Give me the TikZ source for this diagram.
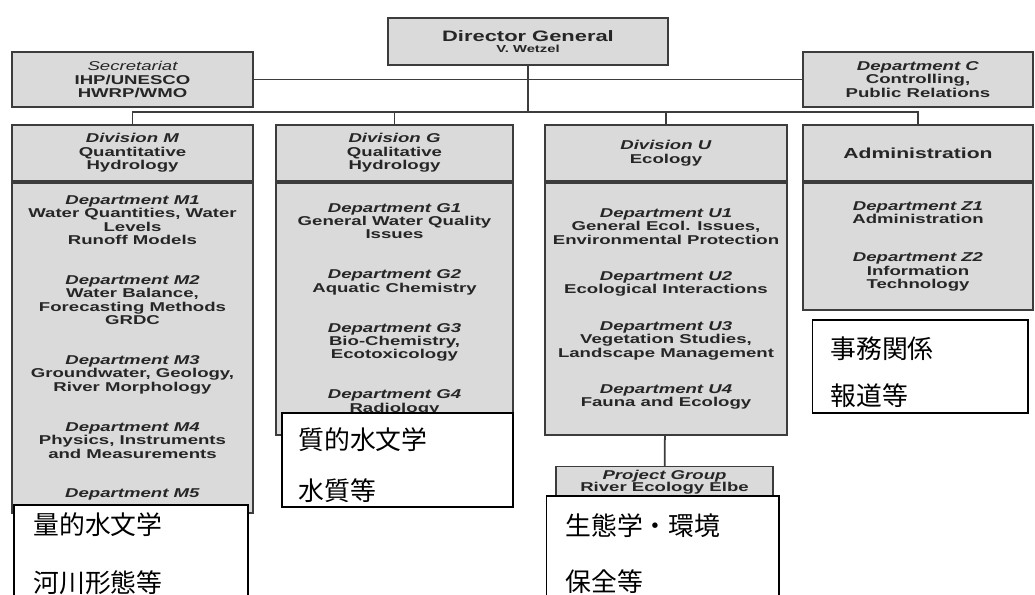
\documentclass[tikz,border=0pt]{standalone}
\usepackage{fontspec}
\newfontfamily\orgfont[FakeStretch=1.45]{Liberation Sans}
\newfontfamily\jpfont{Noto Sans CJK JP}
\usepackage{tikz}
\usetikzlibrary{positioning}

\definecolor{boxgray}{RGB}{218,218,218}
\definecolor{linegray}{RGB}{60,60,60}

\begin{document}
\begin{tikzpicture}[x=0.02cm, y=-0.02cm]
			\tikzstyle{Box}		= [rectangle, draw=linegray, line width=0.8pt, fill=boxgray, align=center, inner sep=1pt, text=black!85, font=\orgfont\bfseries\fontsize{7.3}{7.65}\selectfont]
			\tikzstyle{Head}	= [Box, minimum height=1.12cm]
			\tikzstyle{Dept}	= [Box]
			\tikzstyle{Note}	= [rectangle, draw=black, line width=0.6pt, fill=white]
			\tikzstyle{NoteText}	= [anchor=west, align=left, inner sep=0pt, font=\jpfont\fontsize{14.7}{27}\selectfont]
			\tikzstyle{Link}	= [draw=linegray, line width=1pt]

			\useasboundingbox (0,0) rectangle (1035,595);
			\clip (0,0) rectangle (1035,595);

			\node (dg) at (528,41.5) [Box, minimum width=5.6cm, minimum height=0.94cm] {{\fontsize{8.6}{9}\selectfont Director General}\\[-1pt]{\fontsize{5.8}{6.5}\selectfont V. Wetzel}};
			\node (sec) at (132.5,79.5) [Box, minimum width=4.82cm, minimum height=1.1cm] {{\mdseries\itshape Secretariat}\\IHP/UNESCO\\HWRP/WMO};
			\node (depC) at (918,79.5) [Box, minimum width=4.6cm, minimum height=1.1cm] {\textit{Department C}\\Controlling,\\Public Relations};

			\node (divM) at (132.5,153) [Head, minimum width=4.82cm] {\textit{Division M}\\Quantitative\\Hydrology};
			\node (divG) at (394.5,153) [Head, minimum width=4.74cm] {\textit{Division G}\\Qualitative\\Hydrology};
			\node (divU) at (666,153) [Head, minimum width=4.84cm] {\textit{Division U}\\Ecology};
			\node (divA) at (918,153) [Head, minimum width=4.6cm, font=\orgfont\bfseries\fontsize{8.3}{9}\selectfont] {Administration};

			\node (depM) at (132.5,348) [Dept, minimum width=4.82cm, minimum height=6.6cm] {\textit{Department M1}\\Water Quantities, Water\\Levels\\Runoff Models\\[15pt]
				\textit{Department M2}\\Water Balance,\\Forecasting Methods\\GRDC\\[15pt]
				\textit{Department M3}\\Groundwater, Geology,\\River Morphology\\[15pt]
				\textit{Department M4}\\Physics, Instruments\\and Measurements\\[15pt]
				\textit{Department M5}};
			\node (depG) at (394.5,309) [Dept, minimum width=4.74cm, minimum height=5.04cm] {\textit{Department G1}\\General Water Quality\\Issues\\[15pt]
				\textit{Department G2}\\Aquatic Chemistry\\[15pt]
				\textit{Department G3}\\Bio-Chemistry,\\Ecotoxicology\\[15pt]
				\textit{Department G4}\\Radiology};
			\node (depU) at (666,309) [Dept, minimum width=4.84cm, minimum height=5.04cm] {\textit{Department U1}\\General Ecol. Issues,\\Environmental Protection\\[13pt]
				\textit{Department U2}\\Ecological Interactions\\[13pt]
				\textit{Department U3}\\Vegetation Studies,\\Landscape Management\\[13pt]
				\textit{Department U4}\\Fauna and Ecology};
			\node (depZ) at (918,246.5) [Dept, minimum width=4.6cm, minimum height=2.54cm] {\textit{Department Z1}\\Administration\\[14pt]
				\textit{Department Z2}\\Information\\Technology};
			\node (proj) at (664.5,482) [Box, minimum width=4.34cm, minimum height=0.62cm] {\textit{Project Group}\\[-1pt]River Ecology Elbe};

			% bus lines
			\coordinate (busL) at (132.5,112);
			\coordinate (busR) at (918,112);
			\draw [Link] (sec) -- (depC);
			\draw [Link] (dg) -- (dg |- busL);
			\draw [Link] (divM) -- (busL) -- (busR) -- (divA);
			\draw [Link] (divG) -- (divG |- busL);
			\draw [Link] (divU) -- (divU |- busL);
			\draw [Link] (divM) -- (depM);
			\draw [Link] (divG) -- (depG);
			\draw [Link] (divU) -- (depU);
			\draw [Link] (divA) -- (depZ);
			\draw [Link] (depU) -- (proj);

			% notes
			\node (nM) at (131,562.5) [Note, minimum width=4.68cm, minimum height=2.3cm] {};
			\node (tM) at (33,554) [NoteText] {量的水文学\\[6pt]河川形態等};
			\node (nG) at (397.5,460) [Note, minimum width=4.62cm, minimum height=1.88cm] {};
			\node (tG) at (298,465.5) [NoteText] {質的水文学\\[2pt]水質等};
			\node (nU) at (662.5,558) [Note, minimum width=4.66cm, minimum height=2.48cm] {};
			\node (tU) at (565,554) [NoteText] {生態学・環境\\[5pt]保全等};
			\node (nA) at (920,366.5) [Note, minimum width=4.32cm, minimum height=1.86cm] {};
			\node (tA) at (830,372) [NoteText] {事務関係\\報道等};
		\end{tikzpicture}
\end{document}
